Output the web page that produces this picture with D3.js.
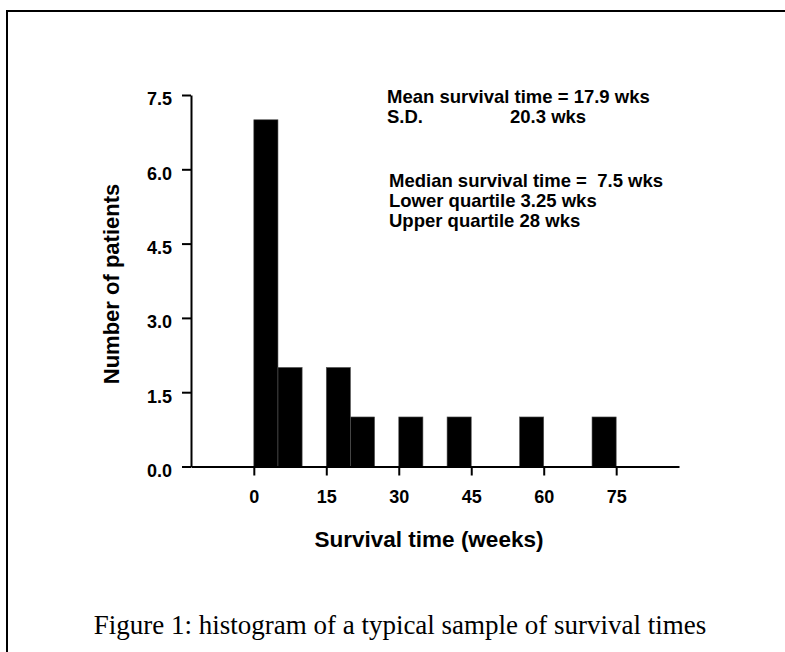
<!DOCTYPE html>
<html>
<head>
<meta charset="utf-8">
<script src="https://cdn.jsdelivr.net/npm/d3@7"></script>
<style>
  body { margin: 0; background: #fff; }
  svg { display: block; }
  .axis path, .axis line { stroke: #000; stroke-width: 2; }
  .axis text { font-family: Arial, "Liberation Sans", sans-serif; font-weight: bold; font-size: 18px; fill: #000; }
</style>
</head>
<body>
<div id="chart"></div>
<script>
// histogram bins (weeks) and patient counts
var binStart = [0, 5, 15, 20, 30, 40, 55, 70];
var binEnd   = [5, 10, 20, 25, 35, 45, 60, 75];
var counts   = [7, 2, 2, 1, 1, 1, 1, 1];

var xTicks = [0, 15, 30, 45, 60, 75];
var yTicks = [0, 1.5, 3.0, 4.5, 6.0, 7.5];

var statsTop = ["Mean survival time = 17.9 wks", "S.D."];
var sdValue = "20.3 wks";
var statsBottom = ["Median survival time =  7.5 wks", "Lower quartile 3.25 wks", "Upper quartile 28 wks"];

var width = 785, height = 652;

var svg = d3.select("#chart").append("svg")
    .attr("width", width)
    .attr("height", height);

// outer frame (right and bottom edges run off the page)
svg.append("rect")
    .attr("x", 7)
    .attr("y", 11)
    .attr("width", 820)
    .attr("height", 700)
    .attr("fill", "none")
    .attr("stroke", "#000")
    .attr("stroke-width", 2);

var x = d3.scaleLinear().domain([-13, 88]).range([191, 679]);
var y = d3.scaleLinear().domain([0, 7.5]).range([466.5, 95]);

// bars
svg.append("g").selectAll("rect")
    .data(counts)
    .enter().append("rect")
    .attr("x", function (d, i) { return x(binStart[i]); })
    .attr("width", function (d, i) { return x(binEnd[i]) - x(binStart[i]); })
    .attr("y", function (d) { return y(d); })
    .attr("height", function (d) { return y(0) - y(d); })
    .attr("fill", "#000")
    .attr("stroke", "#555")
    .attr("stroke-width", 0.6);

// y axis
var yAxis = svg.append("g")
    .attr("class", "axis")
    .attr("transform", "translate(" + x(-13) + ",0)")
    .call(d3.axisLeft(y).tickValues(yTicks).tickSize(9).tickSizeOuter(0).tickPadding(10)
        .tickFormat(d3.format(".1f")));
yAxis.selectAll("text").attr("dy", "0.55em");

// x axis
var xAxis = svg.append("g")
    .attr("class", "axis")
    .attr("transform", "translate(0," + y(0) + ")")
    .call(d3.axisBottom(x).tickValues(xTicks).tickSize(9).tickSizeOuter(0).tickPadding(14.5)
        .tickFormat(d3.format("d")));

// axis titles
svg.append("text")
    .attr("x", 429)
    .attr("y", 547)
    .attr("text-anchor", "middle")
    .style("font-family", "Arial, 'Liberation Sans', sans-serif")
    .style("font-weight", "bold")
    .style("font-size", "22.5px")
    .text("Survival time (weeks)");

svg.append("text")
    .attr("transform", "translate(119,284) rotate(-90)")
    .attr("text-anchor", "middle")
    .style("font-family", "Arial, 'Liberation Sans', sans-serif")
    .style("font-weight", "bold")
    .style("font-size", "22px")
    .text("Number of patients");

// summary statistics
var stats = svg.append("g")
    .style("font-family", "Arial, 'Liberation Sans', sans-serif")
    .style("font-weight", "bold")
    .style("font-size", "18.5px");

stats.selectAll(".top")
    .data(statsTop)
    .enter().append("text")
    .attr("class", "top")
    .attr("x", 387)
    .attr("y", function (d, i) { return 103 + i * 20; })
    .text(function (d) { return d; });

stats.append("text")
    .attr("x", 510)
    .attr("y", 123)
    .text(sdValue);

stats.selectAll(".bottom")
    .data(statsBottom)
    .enter().append("text")
    .attr("class", "bottom")
    .attr("x", 389)
    .attr("y", function (d, i) { return 187 + i * 20; })
    .style("white-space", "pre")
    .text(function (d) { return d; });

// caption
svg.append("text")
    .attr("x", 400)
    .attr("y", 634)
    .attr("text-anchor", "middle")
    .style("font-family", "'Liberation Serif', 'Times New Roman', serif")
    .style("font-size", "27px")
    .text("Figure 1: histogram of a typical sample of survival times");
</script>
</body>
</html>
